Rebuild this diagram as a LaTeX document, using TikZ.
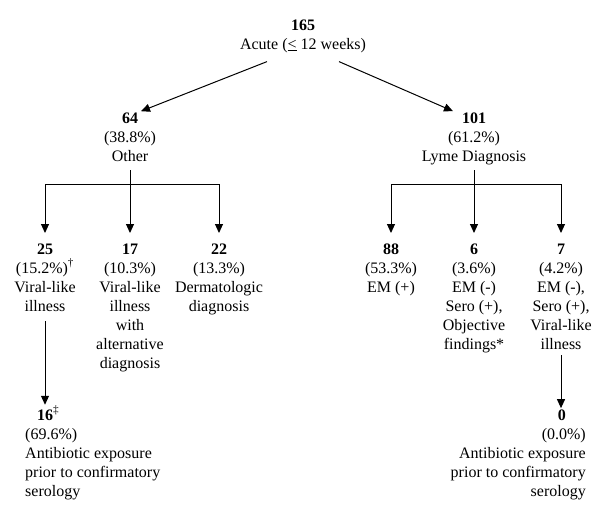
\documentclass[tikz,border=0pt]{standalone}
\usepackage{fontspec}
\setmainfont{Liberation Serif}
\usetikzlibrary{arrows.meta}
\begin{document}
\begin{tikzpicture}[x=1pt,y=-1pt,
  lbl/.style={inner sep=0pt, align=center, font=\fontsize{16}{19}\selectfont},
  lblL/.style={lbl, align=left},
  lblR/.style={lbl, align=right},
  line/.style={line width=1pt},
  arr/.style={line, -{Triangle[length=9pt,width=8pt]}}]
\useasboundingbox (0,0) rectangle (600,515);
% levels
\coordinate (stemtop) at (0,170);
\coordinate (barY) at (0,184);
\coordinate (tipY) at (0,233);
% nodes (anchored at the baseline of their last line)
\node[lbl,anchor=base] (top) at (303,49) {\textbf{165}\\Acute (\underline{<} 12 weeks)};
\node[lbl,anchor=base] (n64) at (130,161) {\textbf{64}\\(38.8\%)\\Other};
\node[lbl,anchor=base] (n101) at (474,161) {\textbf{101}\\(61.2\%)\\Lyme Diagnosis};
\node[lbl,anchor=base] (n25) at (45,311) {\textbf{25}\\(15.2\%)\textsuperscript{\dag}\\Viral-like\\illness};
\node[lbl,anchor=base] (n17) at (130,368) {\textbf{17}\\(10.3\%)\\Viral-like\\illness\\with\\alternative\\diagnosis};
\node[lbl,anchor=base] (n22) at (219,311) {\textbf{22}\\(13.3\%)\\Dermatologic\\diagnosis};
\node[lbl,anchor=base] (n88) at (391,292) {\textbf{88}\\(53.3\%)\\EM (+)};
\node[lbl,anchor=base] (n6) at (474,349) {\textbf{6}\\(3.6\%)\\EM (-)\\Sero (+),\\Objective\\findings*};
\node[lbl,anchor=base] (n7) at (561,349) {\textbf{7}\\(4.2\%)\\EM (-),\\Sero (+),\\Viral-like\\illness};
\node[lblL,anchor=base west] (n16) at (25,496) {\rule{12pt}{0pt}\textbf{16}\textsuperscript{\ddag}\\(69.6\%)\\Antibiotic exposure\\prior to confirmatory\\serology};
\node[lblR,anchor=base east] (n0) at (586,496) {\textbf{0}\rule{20pt}{0pt}\\(0.0\%)\\Antibiotic exposure\\prior to confirmatory\\serology};
% connectors
\draw[arr] ([xshift=-36pt,yshift=-9pt]top.south) -- ([xshift=11pt,yshift=1pt]n64.north);
\draw[arr] ([xshift=36pt,yshift=-9pt]top.south) -- ([xshift=-21pt,yshift=1pt]n101.north);
\draw[line] (n64.south |- stemtop) -- (n64.south |- barY);
\draw[arr] (n64.south |- barY) -| (n25.north |- tipY);
\draw[arr] (n64.south |- barY) -- (n17.north |- tipY);
\draw[arr] (n64.south |- barY) -| (n22.north |- tipY);
\draw[line] (n101.south |- stemtop) -- (n101.south |- barY);
\draw[arr] (n101.south |- barY) -| (n88.north |- tipY);
\draw[arr] (n101.south |- barY) -- (n6.north |- tipY);
\draw[arr] (n101.south |- barY) -| (n7.north |- tipY);
\draw[arr] ([yshift=-10pt]n25.south) -- ([yshift=1pt]n25.south |- n16.north);
\draw[arr] ([yshift=-6pt]n7.south) -- ([yshift=1pt]n7.south |- n0.north);
\end{tikzpicture}
\end{document}
